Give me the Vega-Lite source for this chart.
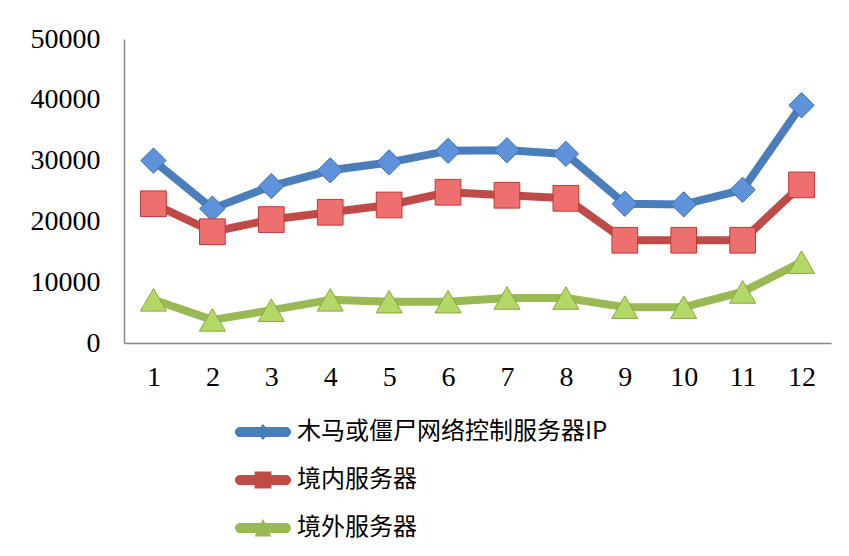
{
  "$schema": "https://vega.github.io/schema/vega-lite/v6.json",
  "width": 707,
  "height": 304,
  "autosize": "none",
  "padding": {"left": 124, "top": 39, "right": 18, "bottom": 213},
  "background": "white",
  "config": {
    "view": {"stroke": null},
    "axis": {"grid": false, "ticks": false, "domainColor": "#868686", "domainWidth": 1.5, "labelFont": "Liberation Serif", "labelFontSize": 28, "labelColor": "#000000", "title": null},
    "legend": {"title": null, "symbolSize": 3136, "symbolOpacity": 1, "symbolStrokeWidth": 0, "labelFont": "Noto Sans CJK SC", "labelFontSize": 24, "labelColor": "#000000", "labelOffset": 6, "rowPadding": 8, "labelLimit": 600}
  },
  "data": {
    "values": [
      {"month": 1, "series": "木马或僵尸网络控制服务器IP", "value": 30000},
      {"month": 2, "series": "木马或僵尸网络控制服务器IP", "value": 22100},
      {"month": 3, "series": "木马或僵尸网络控制服务器IP", "value": 25800},
      {"month": 4, "series": "木马或僵尸网络控制服务器IP", "value": 28400},
      {"month": 5, "series": "木马或僵尸网络控制服务器IP", "value": 29700},
      {"month": 6, "series": "木马或僵尸网络控制服务器IP", "value": 31600},
      {"month": 7, "series": "木马或僵尸网络控制服务器IP", "value": 31700},
      {"month": 8, "series": "木马或僵尸网络控制服务器IP", "value": 31100},
      {"month": 9, "series": "木马或僵尸网络控制服务器IP", "value": 22900},
      {"month": 10, "series": "木马或僵尸网络控制服务器IP", "value": 22800},
      {"month": 11, "series": "木马或僵尸网络控制服务器IP", "value": 25200},
      {"month": 12, "series": "木马或僵尸网络控制服务器IP", "value": 39100},
      {"month": 1, "series": "境内服务器", "value": 22900},
      {"month": 2, "series": "境内服务器", "value": 18300},
      {"month": 3, "series": "境内服务器", "value": 20300},
      {"month": 4, "series": "境内服务器", "value": 21500},
      {"month": 5, "series": "境内服务器", "value": 22700},
      {"month": 6, "series": "境内服务器", "value": 24800},
      {"month": 7, "series": "境内服务器", "value": 24300},
      {"month": 8, "series": "境内服务器", "value": 23800},
      {"month": 9, "series": "境内服务器", "value": 16900},
      {"month": 10, "series": "境内服务器", "value": 16900},
      {"month": 11, "series": "境内服务器", "value": 16900},
      {"month": 12, "series": "境内服务器", "value": 26000},
      {"month": 1, "series": "境外服务器", "value": 7100},
      {"month": 2, "series": "境外服务器", "value": 3800},
      {"month": 3, "series": "境外服务器", "value": 5400},
      {"month": 4, "series": "境外服务器", "value": 7100},
      {"month": 5, "series": "境外服务器", "value": 6800},
      {"month": 6, "series": "境外服务器", "value": 6800},
      {"month": 7, "series": "境外服务器", "value": 7400},
      {"month": 8, "series": "境外服务器", "value": 7400},
      {"month": 9, "series": "境外服务器", "value": 5900},
      {"month": 10, "series": "境外服务器", "value": 5900},
      {"month": 11, "series": "境外服务器", "value": 8400},
      {"month": 12, "series": "境外服务器", "value": 13300}
    ]
  },
  "encoding": {
    "x": {"field": "month", "type": "ordinal", "scale": {"type": "point", "padding": 0.5}, "axis": {"labelAngle": 0, "labelPadding": 20}},
    "y": {"field": "value", "type": "quantitative", "scale": {"domain": [0, 50000]}, "axis": {"values": [0, 10000, 20000, 30000, 40000, 50000], "format": "d", "labelPadding": 24}}
  },
  "layer": [
    {
      "mark": {"type": "line", "strokeWidth": 8, "strokeJoin": "round"},
      "encoding": {
        "color": {"field": "series", "type": "nominal", "scale": {"domain": ["木马或僵尸网络控制服务器IP", "境内服务器", "境外服务器"], "range": ["#4a7ebb", "#be4b48", "#98b954"]}, "legend": {"orient": "none", "legendX": 111, "legendY": 365}}
      }
    },
    {
      "transform": [{"filter": "datum.series === '木马或僵尸网络控制服务器IP'"}],
      "mark": {"type": "point", "shape": "diamond", "filled": true, "fill": "#5e93dc", "stroke": "#3d6db0", "strokeWidth": 1, "size": 640, "opacity": 1}
    },
    {
      "transform": [{"filter": "datum.series === '境内服务器'"}],
      "mark": {"type": "point", "shape": "square", "filled": true, "fill": "#ee6f6f", "stroke": "#c0392f", "strokeWidth": 1, "size": 660, "opacity": 1}
    },
    {
      "transform": [{"filter": "datum.series === '境外服务器'"}],
      "mark": {"type": "point", "shape": "triangle-up", "filled": true, "fill": "#b4d868", "stroke": "#88a83e", "strokeWidth": 1, "size": 680, "opacity": 1}
    },
    {
      "mark": {"type": "point", "filled": true, "opacity": 0, "strokeWidth": 0},
      "encoding": {
        "color": {"field": "series", "type": "nominal"},
        "shape": {"field": "series", "type": "nominal", "scale": {"domain": ["木马或僵尸网络控制服务器IP", "境内服务器", "境外服务器"], "range": ["M-0.82,-0.18L0.82,-0.18A0.18,0.18 0 0 1 0.82,0.18L-0.82,0.18A0.18,0.18 0 0 1 -0.82,-0.18Z M0,-0.29L0.24,0L0,0.29L-0.24,0Z", "M-0.82,-0.18L0.82,-0.18A0.18,0.18 0 0 1 0.82,0.18L-0.82,0.18A0.18,0.18 0 0 1 -0.82,-0.18Z M-0.3,-0.3L0.3,-0.3L0.3,0.3L-0.3,0.3Z", "M-0.82,-0.18L0.82,-0.18A0.18,0.18 0 0 1 0.82,0.18L-0.82,0.18A0.18,0.18 0 0 1 -0.82,-0.18Z M0,-0.33L0.3,0.3L-0.3,0.3Z"]}, "legend": {"orient": "none", "legendX": 111, "legendY": 365}}
      }
    }
  ]
}
